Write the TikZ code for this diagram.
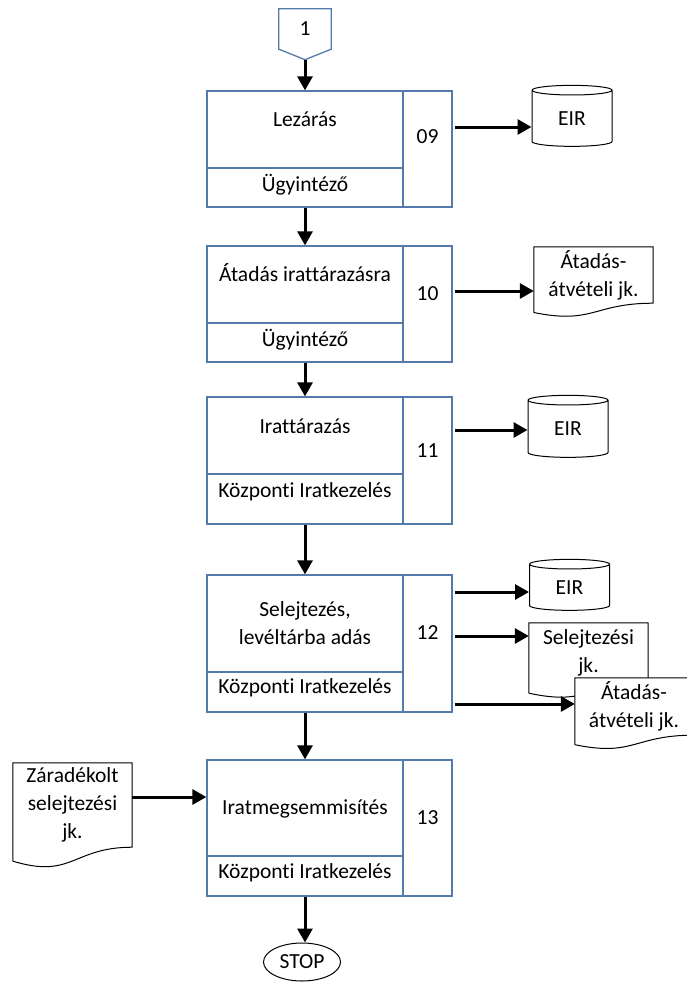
\documentclass[tikz,border=0pt]{standalone}
\usepackage{fontspec}
\setmainfont[Ligatures=NoCommon]{Carlito}
\usetikzlibrary{arrows.meta,shapes.geometric,calc}
\pgfdeclarelayer{background}
\pgfsetlayers{background,main}

\definecolor{BoxBlue}{HTML}{5479AB}

\tikzstyle{task-box}=[rectangle, draw=BoxBlue, line width=1.3pt, inner sep=0pt]
\tikzstyle{main-box}=[task-box, minimum width=196pt]
\tikzstyle{num-box}=[task-box, minimum width=49pt]
\tikzstyle{flow-arrow}=[line width=3pt, -{Triangle[length=14pt, width=15pt]}]
\tikzstyle{store}=[cylinder, shape border rotate=90, draw, line width=1pt, aspect=0.35, minimum width=80pt, inner sep=0pt]
\tikzstyle{doc-box}=[rectangle, inner sep=0pt, align=center]
\tikzstyle{stop-box}=[ellipse, draw, line width=1pt, minimum width=77pt, minimum height=38pt, inner sep=0pt]

% word-style document outline behind a doc-box node
\newcommand{\docoutline}[1]{%
  \begin{pgfonlayer}{background}
    \draw[fill=white, line width=1pt] ($(#1.south west)!-0.165!(#1.north west)$) -- (#1.north west) -- (#1.north east) -- (#1.south east)
      .. controls (#1.south) and ($(#1.south)!-0.38!(#1.north)$) .. ($(#1.south west)!-0.165!(#1.north west)$);
  \end{pgfonlayer}}
% off-page connector outline
\newcommand{\offpageoutline}[1]{%
  \begin{pgfonlayer}{background}
    \draw[fill=white, draw=BoxBlue, line width=1.3pt] (#1.north west) -- (#1.north east) -- (#1.south east)
      -- ($(#1.south)!-0.26!(#1.north)$) -- (#1.south west) -- cycle;
  \end{pgfonlayer}}

\begin{document}
\begin{tikzpicture}[x=1pt, y=-1pt, font=\fontsize{21.5pt}{28pt}\selectfont,
    every label/.style={align=center, inner sep=0pt}]
  \useasboundingbox (0,0) rectangle (686,988);

  % start connector
  \node (start-1) at (305,29) [doc-box, minimum width=52pt, minimum height=40pt] {1};
  \offpageoutline{start-1}
  \coordinate (start-tip) at ($(start-1.south)!-0.26!(start-1.north)$);

  % 09
  \node (p09-main) at (305,129.5) [main-box, minimum height=77pt, label={[yshift=10.5pt]center:Lezárás}] {};
  \node (p09-actor) at (305,187.5) [main-box, minimum height=39pt, label={[yshift=3pt]center:Ügyintéző}] {};
  \node (p09-num) at (427.5,149) [num-box, minimum height=116pt, label={[yshift=12pt]center:09}] {};
  \node (eir09) at (572,118.5) [store, minimum height=61pt] {EIR};

  % 10
  \node (p10-main) at (305,284.5) [main-box, minimum height=77pt, label={[yshift=11.5pt]center:Átadás irattárazásra}] {};
  \node (p10-actor) at (305,342.5) [main-box, minimum height=39pt, label={[yshift=2.5pt]center:Ügyintéző}] {};
  \node (p10-num) at (427.5,304) [num-box, minimum height=116pt, label={[yshift=10pt]center:10}] {};
  \node (doc10) at (593.5,275) [doc-box, minimum width=119pt, minimum height=56pt] {Átadás-\\átvételi jk.};
  \docoutline{doc10}

  % 11
  \node (p11-main) at (305,435.5) [main-box, minimum height=77pt, label={[yshift=9.5pt]center:Irattárazás}] {};
  \node (p11-actor) at (305,499) [main-box, minimum height=50pt, label={[yshift=7pt]center:Központi Iratkezelés}] {};
  \node (p11-num) at (427.5,460.5) [num-box, minimum height=127pt, label={[yshift=9.5pt]center:11}] {};
  \node (eir11) at (568,429) [store, minimum height=62pt] {EIR};

  % 12
  \node (p12-main) at (305,623.5) [main-box, minimum height=97pt, label={center:{Selejtezés,\\levéltárba adás}}] {};
  \node (p12-actor) at (305,692) [main-box, minimum height=40pt, label={[yshift=4pt]center:Központi Iratkezelés}] {};
  \node (p12-num) at (427.5,643.5) [num-box, minimum height=137pt, label={[yshift=10.5pt]center:12}] {};
  \node (eir12) at (569.5,587.5) [store, minimum height=51pt] {EIR};
  \node (doc12a) at (588.5,653) [doc-box, minimum width=119pt, minimum height=60pt] {Selejtezési\\jk.};
  \docoutline{doc12a}
  \node (doc12b) at (634,706.5) [doc-box, minimum width=118pt, minimum height=57pt] {Átadás-\\átvételi jk.};
  \docoutline{doc12b}

  % 13
  \node (p13-main) at (305,808) [main-box, minimum height=96pt, label={[yshift=-1pt]center:Iratmegsemmisítés}] {};
  \node (p13-actor) at (305,876) [main-box, minimum height=40pt, label={[yshift=3pt]center:Központi Iratkezelés}] {};
  \node (p13-num) at (427.5,828) [num-box, minimum height=136pt, label={[yshift=10pt]center:13}] {};
  \node (doc-zar) at (72.5,805) [doc-box, minimum width=119pt, minimum height=84pt] {Záradékolt\\selejtezési\\jk.};
  \docoutline{doc-zar}
  \node (stop) at (302,962) [stop-box] {STOP};

  % main flow
  \draw[flow-arrow] (start-tip) -- (p09-main.north);
  \draw[flow-arrow] (p09-actor.south) -- (p10-main.north);
  \draw[flow-arrow] (p10-actor.south) -- (p11-main.north);
  \draw[flow-arrow] (p11-actor.south) -- (p12-main.north);
  \draw[flow-arrow] (p12-actor.south) -- (p13-main.north);
  \draw[flow-arrow] (p13-actor.south) -- (p13-actor.south |- stop.north);

  % outputs
  \coordinate (p09-out) at (455,127);
  \coordinate (p10-out) at (455,291);
  \coordinate (p11-out) at (455,430);
  \coordinate (p12-out1) at (455,592);
  \coordinate (p12-out2) at (455,636);
  \coordinate (p12-out3) at (455,704);
  \coordinate (zar-out) at (132,797);
  \draw[flow-arrow] (p09-out) -- (p09-out -| eir09.west);
  \draw[flow-arrow] (p10-out) -- (p10-out -| doc10.west);
  \draw[flow-arrow] (p11-out) -- (p11-out -| eir11.west);
  \draw[flow-arrow] (p12-out1) -- (p12-out1 -| eir12.west);
  \draw[flow-arrow] (p12-out2) -- (p12-out2 -| doc12a.west);
  \draw[flow-arrow] (p12-out3) -- (p12-out3 -| doc12b.west);
  \draw[flow-arrow] (zar-out) -- (zar-out -| p13-main.west);
\end{tikzpicture}
\end{document}
